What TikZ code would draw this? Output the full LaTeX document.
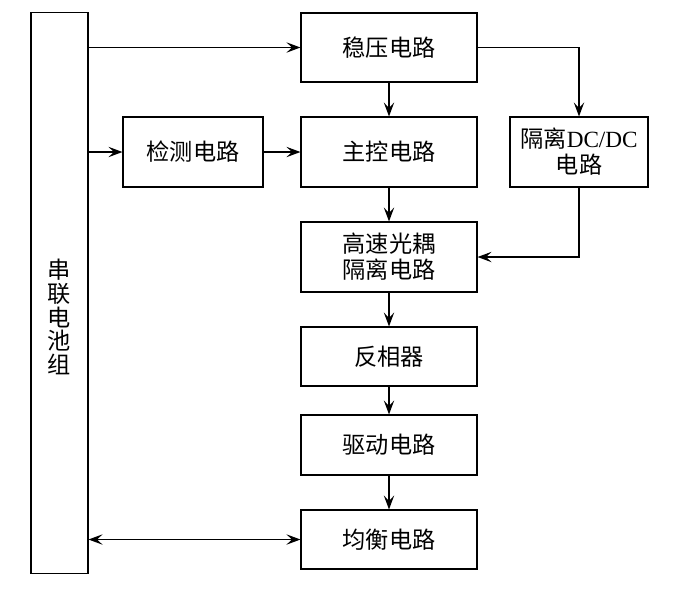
\documentclass[tikz,border=0pt]{standalone}
\usepackage{fontspec}
\setmainfont{Liberation Serif}
\newfontfamily\cjk{Noto Sans CJK SC}
\usepackage{tikz}
\usetikzlibrary{
    positioning,
    arrows.meta,
    calc
}
\tikzset{
    block/.style={
        rectangle, draw, thick,
        minimum width=4.4cm, align=center,
        font=\cjk\fontsize{16.5pt}{18.5pt}\selectfont
    },
    arrow/.style={
        -{Stealth[length=3.5mm, width=2.6mm, inset=1.4mm]}, thick
    },
    biarrow/.style={
        {Stealth[length=3.5mm, width=2.6mm, inset=1.4mm]}-{Stealth[length=3.5mm, width=2.6mm, inset=1.4mm]}, thick
    }
}

\begin{document}
\begin{tikzpicture}[x=0.025cm, y=-0.025cm,
    tallbox/.style={rectangle, draw, thick, minimum width=1.425cm, minimum height=14cm},
    vlabel/.style={align=center, inner sep=0pt, font=\cjk\fontsize{16.5pt}{17pt}\selectfont}
  ]
    \useasboundingbox (0,0) rectangle (676,588);

    % battery stack on the left
    \node[tallbox] (battery) at (59.5,293) {};
    \node[vlabel] (batlabel) at (59.5,317) {串\\联\\电\\池\\组};

    % main column
    \node[block, minimum height=1.725cm] (wenya) at (389,47.5) {稳压电路};
    \node[block, minimum height=1.75cm] (zhukong) at (389,152) {主控电路};
    \node[block, minimum height=1.75cm] (gaosu) at (389,257) {高速光耦\\隔离电路};
    \node[block, minimum height=1.475cm] (fanxiang) at (389,356.5) {反相器};
    \node[block, minimum height=1.5cm] (qudong) at (389,445) {驱动电路};
    \node[block, minimum height=1.475cm] (junheng) at (389,539.5) {均衡电路};

    % side blocks
    \node[block, minimum width=3.5cm, minimum height=1.75cm] (jiance) at (193,152) {检测电路};
    \node[block, minimum width=3.45cm, minimum height=1.75cm] (dcdc) at (579,152) {隔离{\rmfamily DC/DC}\\电路};

    \coordinate (dcturn) at (dcdc.south |- gaosu.east);

    \draw[arrow] (battery.east |- wenya.west) -- (wenya.west);
    \draw[arrow] (battery.east |- jiance.west) -- (jiance.west);
    \draw[arrow] (jiance.east) -- (zhukong.west);
    \draw[arrow] (wenya.south) -- (zhukong.north);
    \draw[arrow] (wenya.east) -| (dcdc.north);
    \draw[arrow] (zhukong.south) -- (gaosu.north);
    \draw[arrow] (dcdc.south) -- (dcturn) -- (gaosu.east);
    \draw[arrow] (gaosu.south) -- (fanxiang.north);
    \draw[arrow] (fanxiang.south) -- (qudong.north);
    \draw[arrow] (qudong.south) -- (junheng.north);
    \draw[biarrow] (battery.east |- junheng.west) -- (junheng.west);

\end{tikzpicture}
\end{document}
